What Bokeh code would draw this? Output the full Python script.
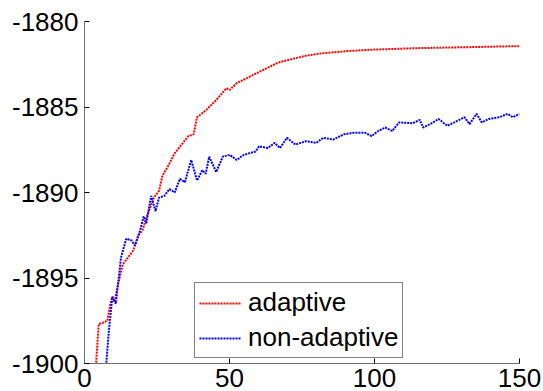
from bokeh.plotting import figure
from bokeh.models import Range1d, Legend, LegendItem, FixedTicker, CustomJSTickFormatter
from bokeh.embed import file_html
from bokeh.resources import INLINE

# ---- data ----
adaptive_x = [3.9, 4.0, 4.9, 6.5, 7.9, 8.8, 9.6, 10.4, 11.4, 13.2, 15.0, 16.8, 18.6, 20.0, 21.5, 23.9,
              25.7, 26.9, 28.7, 31.1, 33.5, 35.8, 37.6, 38.8, 41.8, 45.4, 48.9, 50.1, 52.5, 56.1,
              59.6, 63.2, 66.8, 71.5, 76.3, 82.3, 90.6, 100.1, 114.4, 132.3, 150.0]
adaptive_y = [-1901.0, -1900.0, -1897.7, -1897.6, -1897.5, -1896.6, -1896.1, -1896.4, -1895.5, -1894.2,
              -1893.8, -1893.4, -1892.5, -1892.2, -1891.4, -1890.3, -1889.9, -1889.0, -1888.5,
              -1887.7, -1887.2, -1886.7, -1886.6, -1885.6, -1885.2, -1884.6, -1883.9, -1884.0,
              -1883.6, -1883.3, -1883.0, -1882.7, -1882.4, -1882.2, -1882.0, -1881.85, -1881.73,
              -1881.64, -1881.56, -1881.5, -1881.44]

nonadaptive_x = [7.3, 7.5, 8.5, 9.6, 10.8, 12.6, 14.4, 16.2, 17.4, 19.2, 20.4, 21.3, 23.0, 24.5, 25.7,
                 27.5, 29.3, 31.1, 32.9, 34.6, 36.8, 38.8, 40.6, 41.8, 43.0, 45.4, 47.7, 50.1,
                 52.5, 54.9, 59.0, 60.2, 63.2, 65.6, 67.4, 69.8, 72.7, 76.3, 79.9, 82.3, 85.8,
                 89.4, 93.0, 96.6, 99.0, 101.3, 103.7, 106.1, 108.5, 113.2, 115.6, 116.8, 119.2,
                 122.1, 125.1, 127.5, 131.0, 132.8, 135.2, 137.0, 139.4, 143.0, 145.9, 147.7, 150.0]
nonadaptive_y = [-1901.0, -1900.0, -1897.9, -1896.1, -1896.5, -1893.8, -1892.7, -1892.8, -1893.1,
                 -1892.2, -1891.4, -1891.8, -1890.2, -1891.1, -1890.3, -1890.2, -1889.8, -1890.0,
                 -1889.2, -1889.4, -1888.1, -1889.3, -1888.7, -1888.9, -1887.9, -1888.8, -1887.9,
                 -1887.8, -1888.1, -1887.8, -1887.6, -1887.3, -1887.4, -1887.1, -1887.4, -1886.8,
                 -1887.2, -1887.0, -1887.1, -1886.8, -1886.9, -1886.6, -1886.5, -1886.5, -1886.7,
                 -1886.4, -1886.2, -1886.4, -1885.9, -1885.95, -1885.75, -1886.2, -1886.0, -1885.7,
                 -1886.1, -1885.9, -1885.6, -1886.0, -1885.4, -1885.9, -1885.7, -1885.6, -1885.4,
                 -1885.6, -1885.4]

x_ticks = [0, 50, 100, 150]
y_ticks = [-1900, -1895, -1890, -1885, -1880]
series_labels = ["adaptive", "non-adaptive"]

FONT = "Liberation Sans"

p = figure(width=543, height=391, output_backend="svg", toolbar_location=None,
           x_range=Range1d(0, 150), y_range=Range1d(-1900, -1880),
           min_border_left=84, min_border_right=24, min_border_top=21, min_border_bottom=28)
p.outline_line_color = None
p.xgrid.visible = False
p.ygrid.visible = False
p.background_fill_color = "white"
p.border_fill_color = "white"

r1 = p.line(adaptive_x, adaptive_y, line_color="#ff0000", line_width=2, line_dash="2 1")
r2 = p.line(nonadaptive_x, nonadaptive_y, line_color="#0000ff", line_width=2, line_dash="2 1")

fmt = CustomJSTickFormatter(code="return tick.toString();")
for ax in (p.xaxis[0], p.yaxis[0]):
    ax.axis_line_color = "#707070"
    ax.axis_line_width = 1
    ax.major_tick_line_color = "#000000"
    ax.major_tick_in = 5
    ax.major_tick_out = 0
    ax.minor_tick_in = 0
    ax.minor_tick_out = 0
    ax.major_label_text_font = FONT
    ax.major_label_text_font_size = "26px"
    ax.major_label_text_color = "#000000"
    ax.formatter = fmt

p.xaxis.major_label_standoff = 5
p.yaxis.major_label_standoff = 6
p.xaxis.ticker = FixedTicker(ticks=x_ticks)
p.yaxis.ticker = FixedTicker(ticks=y_ticks)

legend = Legend(items=[LegendItem(label=series_labels[0], renderers=[r1]),
                       LegendItem(label=series_labels[1], renderers=[r2])],
                location=(110, 5))
legend.label_text_font = FONT
legend.label_text_font_size = "26px"
legend.label_text_color = "#000000"
legend.label_height = 28
legend.glyph_height = 28
legend.glyph_width = 42
legend.label_standoff = 7
legend.spacing = 4
legend.padding = 4
legend.margin = 0
legend.border_line_color = "#000000"
legend.border_line_width = 1
legend.background_fill_alpha = 1
p.add_layout(legend)

open("out.html", "w").write(file_html(p, INLINE))
